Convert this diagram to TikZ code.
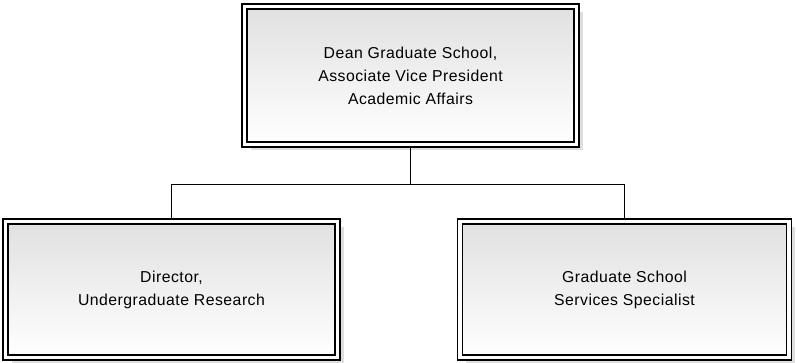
\documentclass[tikz,border=0pt]{standalone}
\usepackage{fontspec}
\setmainfont{Liberation Sans}[LetterSpace=3]
\usetikzlibrary{shadows}
\begin{document}
\begin{tikzpicture}[x=1pt,y=1pt,
  orgbox/.style={rectangle, draw=black, line width=1.5pt, double=white, double distance=3.5pt,
    top color=black!12, bottom color=white, inner sep=0pt, outer sep=3.25pt,
    align=center, font=\fontsize{15.8}{23}\selectfont,
    drop shadow={shadow xshift=6pt, shadow yshift=-6pt, fill=black!13, opacity=1}},
  conn/.style={line width=1.8pt, black}]
\useasboundingbox (0,0) rectangle (796,-363);
\node[orgbox, minimum width=332pt, minimum height=138pt] (dean) at (410.5,-75.5)
  {Dean Graduate School,\\Associate Vice President\\Academic Affairs};
\node[orgbox, minimum width=332pt, minimum height=136pt] (dir) at (171.5,-289.5)
  {Director,\\Undergraduate Research};
\node[orgbox, minimum width=329pt, minimum height=136pt] (spec) at (624.5,-289.5)
  {Graduate School\\Services Specialist};
\coordinate (junc) at (410.5,-184.5);
\draw[conn] (dean.south) -- (junc) -| (dir.north);
\draw[conn] (junc) -| (spec.north);
\end{tikzpicture}
\end{document}
